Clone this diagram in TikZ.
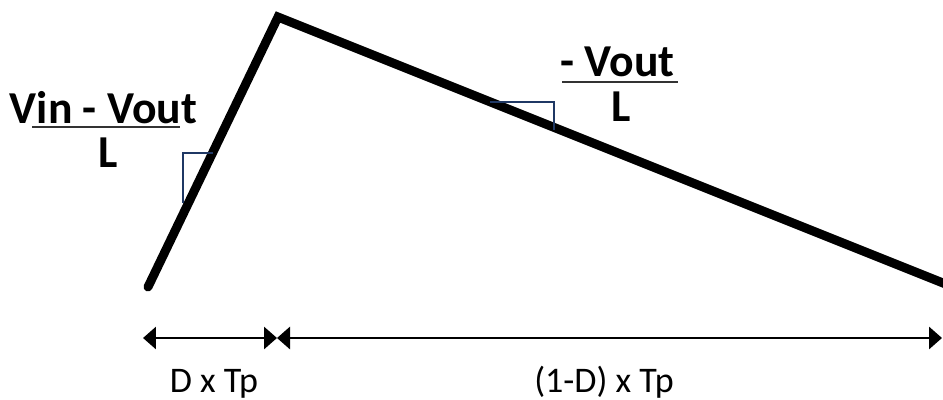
\documentclass[tikz,border=0pt]{standalone}
\usepackage{fontspec}
\setmainfont{Carlito}
\usetikzlibrary{arrows.meta}
\definecolor{slopeblue}{RGB}{31,56,100}

\begin{document}
\begin{tikzpicture}[
  x=0.02cm, y=-0.02cm,
  wave/.style={line width=5.1pt, line cap=round, miter limit=10},
  slopemark/.style={draw=slopeblue, line width=1.5pt},
  fracbar/.style={line width=1.1pt, draw=black!80},
  dim/.style={line width=1.7pt, {Triangle[length=0.26cm, width=0.44cm]}-{Triangle[length=0.26cm, width=0.44cm]}},
  slope/.style={font=\fontsize{26}{30}\selectfont\bfseries, inner sep=0pt, anchor=base,
                text height=16pt, text depth=0pt},
  period/.style={font=\fontsize{20.5}{24}\selectfont, inner sep=0pt, anchor=base},
]
\useasboundingbox (0,0) rectangle (943,399);

% inductor current waveform
\coordinate (start) at (148,287);
\coordinate (peak) at (278,17);
\coordinate (stop) at (948,285);
\draw[wave] (start) -- (peak) -- (stop);

% slope markers
\draw[slopemark] (213,153) -- (183,153) -- (183,203);
\draw[slopemark] (490,102) -- (554,102) -- (554,130);

% slope labels
\node[slope] (risenum) at (103.5,123) {Vin - Vout};
\draw[fracbar] (32,127) -- (180,127);
\node[slope] (riseden) at (108,167) {L};
\node[slope] (fallnum) at (617.5,76) {- Vout};
\draw[fracbar] (562,82) -- (678,82);
\node[slope] (fallden) at (621.5,121) {L};

% time intervals
\coordinate (t0) at (143,338);
\coordinate (t1) at (277,338);
\coordinate (t2) at (942,338);
\draw[dim] (t0) -- (t1);
\draw[dim] (t1) -- (t2);
\node[period] (ontime) at (214,392) {D x Tp};
\node[period] (offtime) at (604,392) {(1-D) x Tp};
\end{tikzpicture}
\end{document}
